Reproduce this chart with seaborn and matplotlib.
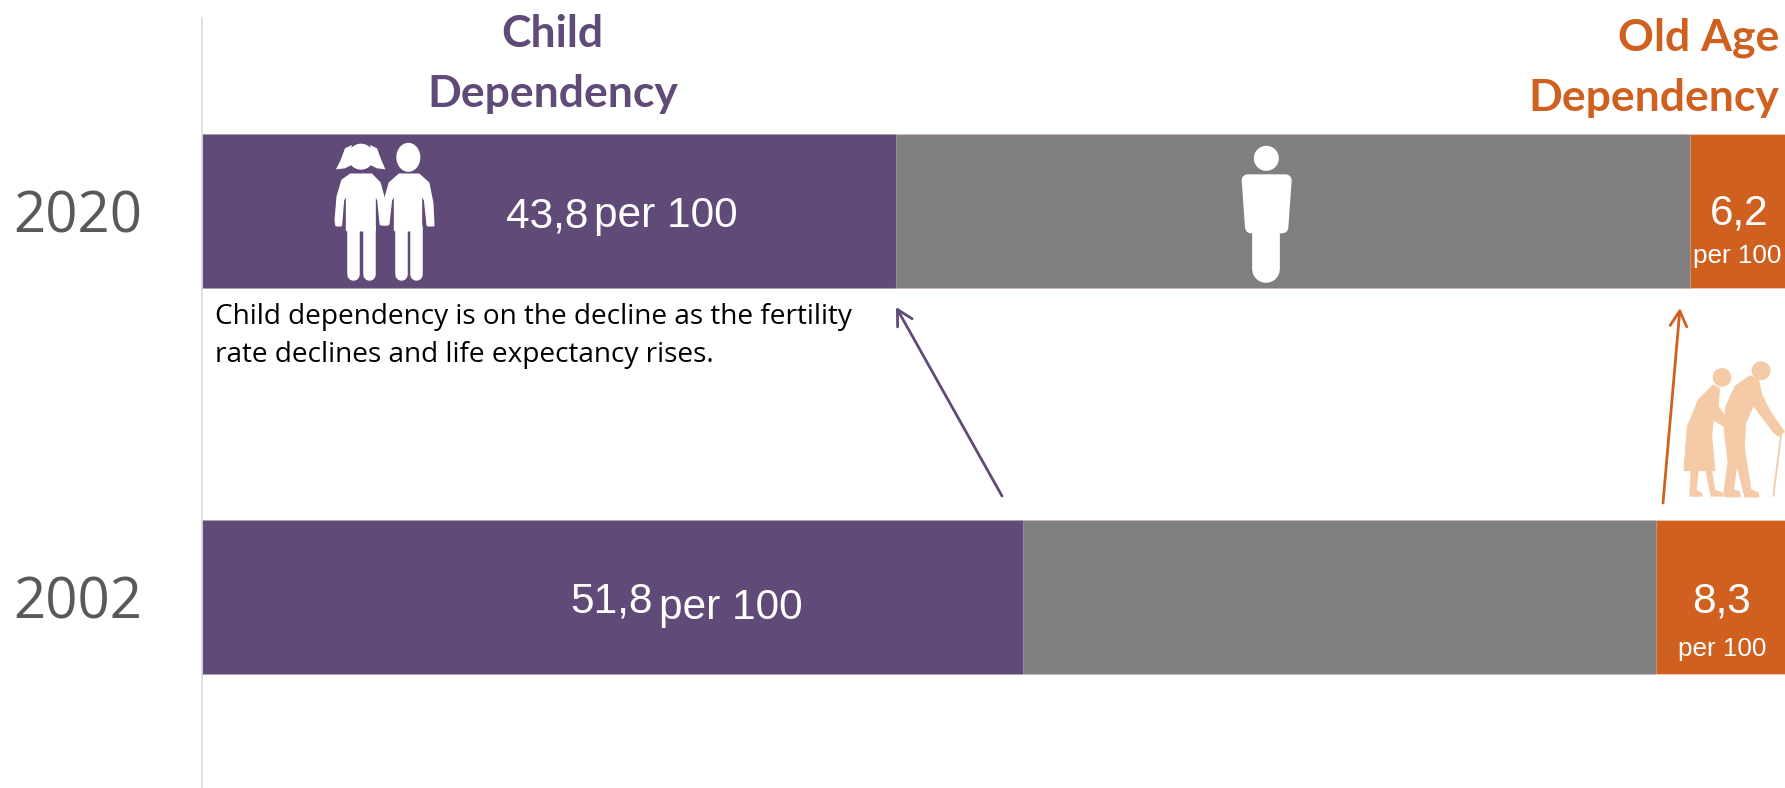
import pandas as pd
import matplotlib
matplotlib.use("Agg")
import matplotlib.pyplot as plt
import seaborn as sns
from matplotlib.patches import Polygon, Circle, Ellipse
from matplotlib.lines import Line2D

# Values (per 100 of the working age share)
YEARS = ["2020", "2002"]
CHILD = [43.8, 51.8]
WORKING = [50.1, 39.95]
OLD_AGE = [6.2, 8.3]
CHILD_LABELS = ["43,8", "51,8"]
OLD_LABELS = ["6,2", "8,3"]
PER_100 = "per 100"
NOTE = "Child dependency is on the decline as the fertility\nrate declines and life expectancy rises."

PURPLE = "#604A78"
GREY = "#7F7F7F"
ORANGE = "#D06020"
PEACH = "#F5CBA7"
YEAR_GREY = "#595959"
W, H = 1785, 788


def add_poly(ov, pts, ox, oy, color, round_px=0):
    # pts come from the 3x crops, so divide by 3 and shift back
    xy = [(ox + a / 3, oy + b / 3) for a, b in pts]
    ov.add_patch(Polygon(xy, closed=True, fc=color, ec=color, lw=round_px * 0.72, joinstyle="round"))


def add_stroke(ov, p0, p1, ox, oy, color, px):
    ov.add_line(Line2D([ox + p0[0] / 3, ox + p1[0] / 3], [oy + p0[1] / 3, oy + p1[1] / 3],
                       color=color, lw=px * 0.72, solid_capstyle="round"))


def draw_children(ov):
    ox, oy = 300, 120
    c = "white"
    # girl
    ov.add_patch(Circle((ox + 183 / 3, oy + 110 / 3), 13, fc=c, ec="none"))
    add_poly(ov, [(155, 75), (135, 85), (122, 120), (108, 148), (135, 145), (155, 135)], ox, oy, c)
    add_poly(ov, [(211, 75), (231, 85), (244, 120), (256, 148), (231, 145), (211, 135)], ox, oy, c)
    add_poly(ov, [(152, 165), (128, 182), (114, 230), (108, 300), (110, 315), (122, 315), (128, 240), (142, 215),
                  (142, 330), (223, 330), (223, 215), (236, 240), (243, 312), (258, 312), (254, 250), (238, 190), (214, 165)],
             ox, oy, c, 3)
    add_stroke(ov, (159, 320), (159, 461), ox, oy, c, 12.5)
    add_stroke(ov, (206, 320), (206, 461), ox, oy, c, 12.5)
    # boy
    ov.add_patch(Ellipse((ox + 325 / 3, oy + 112 / 3), 24, 29, fc=c, ec="none"))
    add_poly(ov, [(298, 165), (270, 190), (256, 240), (250, 312), (264, 312), (272, 240), (286, 215),
                  (286, 330), (362, 330), (362, 215), (376, 240), (384, 315), (399, 315), (396, 250), (384, 190), (356, 165)],
             ox, oy, c, 3)
    add_stroke(ov, (303, 320), (303, 461), ox, oy, c, 12.5)
    add_stroke(ov, (347, 320), (347, 461), ox, oy, c, 12.5)


def draw_adult(ov):
    ox, oy = 1200, 120
    c = "white"
    ov.add_patch(Circle((ox + 199 / 3, oy + 115 / 3), 12.5, fc=c, ec="none"))
    add_poly(ov, [(143, 181), (257, 181), (247, 322), (153, 322)], ox, oy, c, 12)
    add_stroke(ov, (199, 340), (199, 448), ox, oy, c, 27.7)


def draw_elderly(ov):
    ox, oy = 1600, 290
    c = PEACH
    # woman
    ov.add_patch(Circle((ox + 366 / 3, oy + 262 / 3), 9.3, fc=c, ec="none"))
    add_poly(ov, [(340, 285), (295, 330), (262, 410), (252, 542), (345, 542), (335, 440), (340, 390), (378, 412), (380, 385), (355, 350), (358, 295)], ox, oy, c, 1)
    add_poly(ov, [(272, 540), (268, 620), (308, 620), (306, 608), (290, 600), (296, 540)], ox, oy, c)
    add_poly(ov, [(316, 540), (332, 620), (372, 620), (366, 606), (346, 600), (336, 540)], ox, oy, c)
    # man
    ov.add_patch(Circle((ox + 483 / 3, oy + 242 / 3), 9.5, fc=c, ec="none"))
    add_poly(ov, [(450, 258), (405, 290), (378, 350), (373, 420), (385, 515), (372, 610), (376, 620), (420, 620), (418, 606), (400, 600), (410, 520), (435, 620), (476, 620), (474, 608), (452, 600), (432, 470), (436, 400), (460, 345), (520, 425), (535, 438), (552, 425), (510, 365), (485, 315), (475, 270)], ox, oy, c, 1.5)
    # cane
    add_stroke(ov, (543, 435), (520, 618), ox, oy, c, 1.8)


def main():
    sns.set_style("white")
    plt.rcParams["font.family"] = ["Liberation Sans", "DejaVu Sans"]

    df = pd.DataFrame({"year": YEARS, "child": CHILD, "working": WORKING, "old": OLD_AGE})
    df["child_working"] = df["child"] + df["working"]
    df["total"] = df["child_working"] + df["old"]

    fig = plt.figure(figsize=(W / 100, H / 100), dpi=100)
    ax = fig.add_axes([201.5 / W, 0, (W - 201.5) / W, (H - 18) / H])

    # stacked look: draw the running totals back to front
    edge = dict(width=0.4, edgecolor=(1, 1, 1, 0.25), linewidth=0.8, order=YEARS)
    sns.barplot(data=df, y="year", x="total", color=ORANGE, saturation=1, ax=ax, **edge)
    sns.barplot(data=df, y="year", x="child_working", color=GREY, saturation=1, ax=ax, **edge)
    sns.barplot(data=df, y="year", x="child", color=PURPLE, saturation=1, ax=ax, **edge)

    ax.set_xlim(0, 99.9)
    ax.set_ylim(1.495, -0.5)
    ax.set_xlabel("")
    ax.set_ylabel("")
    ax.set_xticks([])
    ax.tick_params(axis="y", length=0, pad=43)
    for lab in ax.get_yticklabels():
        lab.set_fontsize(40.5)
        lab.set_color(YEAR_GREY)
        lab.set_family("Open Sans")
    sns.despine(ax=ax, top=True, right=True, bottom=True)
    ax.spines["left"].set_color("#D9D9D9")
    ax.spines["left"].set_linewidth(1.2)

    # overlay in pixel coordinates for text, icons and arrows
    ov = fig.add_axes([0, 0, 1, 1], facecolor="none")
    ov.set_xlim(0, W)
    ov.set_ylim(H, 0)
    ov.axis("off")

    # value labels
    ov.text(506, 216, CHILD_LABELS[0], color="white", fontsize=30.5, ha="left", va="center")
    ov.text(594, 216, PER_100, color="white", fontsize=30.5, ha="left", va="center")
    ov.text(570, 601, CHILD_LABELS[1], color="white", fontsize=30.5, ha="left", va="center")
    ov.text(659, 608, PER_100, color="white", fontsize=30.5, ha="left", va="center")
    ov.text(1739, 213, OLD_LABELS[0], color="white", fontsize=30.5, ha="center", va="center")
    ov.text(1737, 256, PER_100, color="white", fontsize=18.8, ha="center", va="center")
    ov.text(1722, 602, OLD_LABELS[1], color="white", fontsize=30.5, ha="center", va="center")
    ov.text(1722, 649, PER_100, color="white", fontsize=18.8, ha="center", va="center")

    # headers
    ov.text(552, 34, "Child", color=PURPLE, fontsize=32, family="Lato", weight="bold", ha="center", va="center")
    ov.text(553, 94, "Dependency", color=PURPLE, fontsize=32, family="Lato", weight="bold", ha="center", va="center")
    ov.text(1779, 38, "Old Age", color=ORANGE, fontsize=32, family="Lato", weight="bold", ha="right", va="center")
    ov.text(1779, 98, "Dependency", color=ORANGE, fontsize=32, family="Lato", weight="bold", ha="right", va="center")

    ov.text(215, 336, NOTE, color="black", fontsize=20.2, family="Open Sans", ha="left", va="center", linespacing=1.45)

    ov.annotate("", xy=(896, 307), xytext=(1002, 496),
                arrowprops=dict(arrowstyle="->,head_length=1.1,head_width=0.6", color=PURPLE, lw=2, shrinkA=0, shrinkB=0))
    ov.annotate("", xy=(1680, 308), xytext=(1663, 503),
                arrowprops=dict(arrowstyle="->,head_length=1.1,head_width=0.6", color=ORANGE, lw=2, shrinkA=0, shrinkB=0))

    draw_children(ov)
    draw_adult(ov)
    draw_elderly(ov)

    fig.savefig("out.png", dpi=100)


if __name__ == "__main__":
    main()
